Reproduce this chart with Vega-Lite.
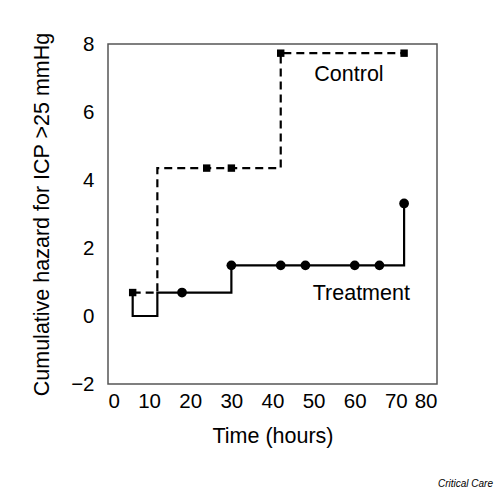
{
  "$schema": "https://vega.github.io/schema/vega-lite/v6.json",
  "autosize": "none",
  "width": 329,
  "height": 340,
  "padding": {"left": 108, "top": 44, "right": 63, "bottom": 106},
  "background": "white",
  "config": {
    "font": "Liberation Sans",
    "view": {"stroke": "#555555", "strokeWidth": 1.5},
    "axis": {"grid": false, "domain": false, "ticks": false, "labelFontSize": 20.5, "titleFontSize": 21.5, "titleFontWeight": "normal", "labelColor": "black", "titleColor": "black"}
  },
  "title": {"text": "Critical Care", "orient": "bottom", "anchor": "end", "frame": "group", "fontSize": 10, "fontStyle": "italic", "fontWeight": "normal", "color": "black", "dx": 56, "offset": 32},
  "datasets": {
    "curves": [
      {"group": "Control", "time": 6, "hazard": 0.69, "marker": true},
      {"group": "Control", "time": 12, "hazard": 4.35, "marker": false},
      {"group": "Control", "time": 24, "hazard": 4.35, "marker": true},
      {"group": "Control", "time": 30, "hazard": 4.35, "marker": true},
      {"group": "Control", "time": 42, "hazard": 7.73, "marker": true},
      {"group": "Control", "time": 72, "hazard": 7.73, "marker": true},
      {"group": "Treatment", "time": 6, "hazard": 0.69, "marker": false},
      {"group": "Treatment", "time": 6.001, "hazard": 0, "marker": false},
      {"group": "Treatment", "time": 12, "hazard": 0.69, "marker": false},
      {"group": "Treatment", "time": 18, "hazard": 0.69, "marker": true},
      {"group": "Treatment", "time": 30, "hazard": 1.49, "marker": true},
      {"group": "Treatment", "time": 42, "hazard": 1.49, "marker": true},
      {"group": "Treatment", "time": 48, "hazard": 1.49, "marker": true},
      {"group": "Treatment", "time": 60, "hazard": 1.49, "marker": true},
      {"group": "Treatment", "time": 66, "hazard": 1.49, "marker": true},
      {"group": "Treatment", "time": 72, "hazard": 3.31, "marker": true}
    ],
    "labels": [
      {"label": "Control", "time": 58.6, "hazard": 7.1},
      {"label": "Treatment", "time": 61.6, "hazard": 0.66}
    ]
  },
  "encoding": {
    "x": {"field": "time", "type": "quantitative", "title": "Time (hours)",
      "scale": {"domain": [0, 80], "nice": false, "zero": false},
      "axis": {"values": [0, 10, 20, 30, 40, 50, 60, 70, 80], "labelPadding": 7, "titlePadding": 14, "format": "d"}},
    "y": {"field": "hazard", "type": "quantitative", "title": "Cumulative hazard for ICP >25 mmHg",
      "scale": {"domain": [-2, 8], "nice": false, "zero": false},
      "axis": {"values": [-2, 0, 2, 4, 6, 8], "labelPadding": 14, "titlePadding": 17, "format": "d"}}
  },
  "layer": [
    {
      "data": {"name": "curves"},
      "transform": [{"filter": "datum.group === 'Control'"}],
      "mark": {"type": "line", "interpolate": "step-after", "color": "black", "strokeWidth": 2.2, "strokeDash": [8, 5]}
    },
    {
      "data": {"name": "curves"},
      "transform": [{"filter": "datum.group === 'Treatment'"}],
      "mark": {"type": "line", "interpolate": "step-after", "color": "black", "strokeWidth": 2.2}
    },
    {
      "data": {"name": "curves"},
      "transform": [{"filter": "datum.group === 'Control' && datum.marker"}],
      "mark": {"type": "point", "shape": "square", "filled": true, "color": "black", "opacity": 1, "size": 55}
    },
    {
      "data": {"name": "curves"},
      "transform": [{"filter": "datum.group === 'Treatment' && datum.marker"}],
      "mark": {"type": "point", "shape": "circle", "filled": true, "color": "black", "opacity": 1, "size": 95}
    },
    {
      "data": {"name": "labels"},
      "mark": {"type": "text", "fontSize": 21.5, "color": "black", "align": "center", "baseline": "middle"},
      "encoding": {"text": {"field": "label"}}
    }
  ]
}
